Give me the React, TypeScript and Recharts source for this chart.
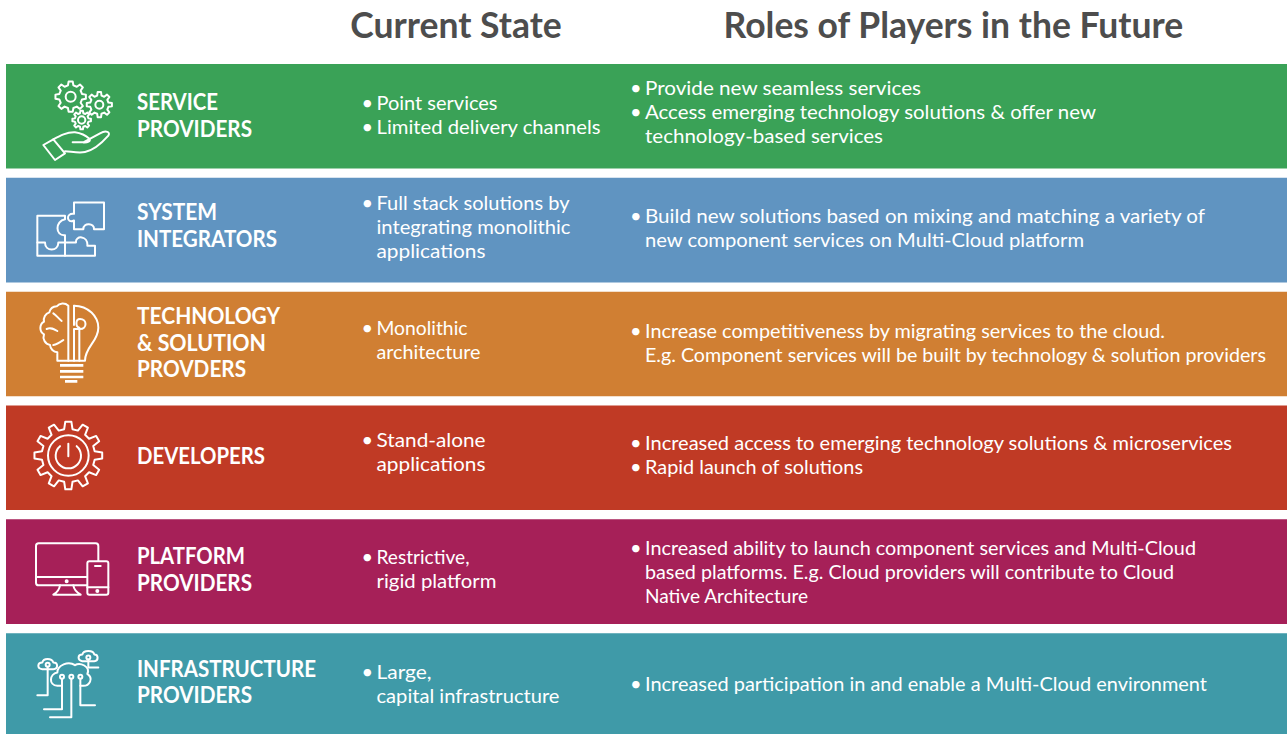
import { Bar, BarChart, Cell, LabelList, XAxis, YAxis } from 'recharts';

const players = [
  ['SERVICE', 'PROVIDERS'],
  ['SYSTEM', 'INTEGRATORS'],
  ['TECHNOLOGY', '& SOLUTION', 'PROVDERS'],
  ['DEVELOPERS'],
  ['PLATFORM', 'PROVIDERS'],
  ['INFRASTRUCTURE', 'PROVIDERS'],
];

const currentState = [
  ['• Point services', '• Limited delivery channels'],
  ['• Full stack solutions by', 'integrating monolithic', 'applications'],
  ['• Monolithic', 'architecture'],
  ['• Stand-alone', 'applications'],
  ['• Restrictive,', 'rigid platform'],
  ['• Large,', 'capital infrastructure'],
];

const futureRoles = [
  ['• Provide new seamless services', '• Access emerging technology solutions & offer new', 'technology-based services'],
  ['• Build new solutions based on mixing and matching a variety of', 'new component services on Multi-Cloud platform'],
  ['• Increase competitiveness by migrating services to the cloud.', 'E.g. Component services will be built by technology & solution providers'],
  ['• Increased access to emerging technology solutions & microservices', '• Rapid launch of solutions'],
  ['• Increased ability to launch component services and Multi-Cloud', 'based platforms. E.g. Cloud providers will contribute to Cloud', 'Native Architecture'],
  ['• Increased participation in and enable a Multi-Cloud environment'],
];

const headers = ['Current State', 'Roles of Players in the Future'];
const headerTicks = [35.13, 73.96];
const rowSpan = [100, 100, 100, 100, 100, 100];
const rowColors = ['#3aa257', '#6094c1', '#d07f33', '#c03a25', '#a62058', '#3f9aa8'];

const playerWidths = [[81, 115], [80, 140], [143, 129, 109], [128], [108, 115], [179, 115]];
const currentWidths = [[121, 224], [193, 194, 109], [91, 104], [109, 109], [93, 120], [55, 183]];
const futureWidths = [[276, 451, 238], [560, 439], [520, 621], [587, 218], [551, 529, 163], [562]];

// block centres relative to the bar centre, they are not quite centred in the original
const playerShift = [-0.5, -5, -1.5, -2, -2.5, -3.5];
const currentShift = [-1.5, -3, -4, -5.5, -2.5, -1.5];
const futureShift = [-4, -2, -1, -3, 0.5, -1.5];

const FONT = 'Lato, sans-serif';
const W = 6;

function gearPath(cx: number, cy: number, outer: number, inner: number, teeth: number) {
  let d = '';
  const step = (Math.PI * 2) / teeth;
  for (let i = 0; i < teeth; i++) {
    const a = i * step - Math.PI / 2;
    const p = [
      [inner, a - step * 0.3],
      [outer, a - step * 0.17],
      [outer, a + step * 0.17],
      [inner, a + step * 0.3],
    ];
    p.forEach(([r, t], k) => {
      const x = (cx + r * Math.cos(t)).toFixed(1);
      const y = (cy + r * Math.sin(t)).toFixed(1);
      d += i === 0 && k === 0 ? `M${x},${y}` : `L${x},${y}`;
    });
  }
  return d + 'Z';
}

// icons are drawn in 3x units, measured from the top of their bar
const icons = [
  <g key="gears">
    <path d={gearPath(212, 98, 46, 35, 8)} />
    <circle cx={212} cy={98} r={15} />
    <path d={gearPath(298, 122, 38, 28, 8)} />
    <circle cx={298} cy={122} r={12} />
    <path d={gearPath(245, 168, 28, 21, 8)} />
    <circle cx={245} cy={168} r={11} />
    <path d="M130,243 L160,226 L195,268 L165,288 Z" />
    <path d="M160,226 C180,215 200,204 225,205 C245,208 258,215 268,224 C274,232 262,236 250,235 L218,235 M250,235 L300,208 C318,198 332,204 325,215 C310,232 285,258 255,264 C235,268 210,262 195,262" />
  </g>,
  <g key="puzzle">
    <path d="M222,74 H312 V154 H282 C284,136 250,132 250,154 H222 V128 C200,140 196,104 222,108 Z" />
    <path d="M112,114 H195 V124 C165,130 165,175 195,172 V234 H112 Z" />
    <path d="M112,194 H135 C135,222 175,222 175,194 H195" />
    <path d="M195,234 H285 V204 H262 C265,172 225,172 228,194 H195" />
  </g>,
  <g key="bulb">
    <path d="M205,42 A24,24 0 0 0 170,44 A24,24 0 0 0 148,62 A24,24 0 0 0 132,90 A22,22 0 0 0 132,128 A24,24 0 0 0 150,160 A24,24 0 0 0 172,182 V207 H205 Z" />
    <path d="M160,65 C170,72 175,80 185,88 M140,112 C152,106 162,112 172,118 M160,160 C172,158 180,152 190,145" />
    <path d="M222,42 C265,42 295,75 295,108 C295,150 255,165 255,207 H205" />
    <path d="M222,42 V100 M222,207 V112 H240 C262,112 262,82 240,82 C226,82 226,105 238,108 V207" />
    <path d="M180,221 H250 M180,239 H250 M180,256 H250 M195,269 H232" strokeWidth={8} strokeLinecap="butt" />
  </g>,
  <g key="power">
    <path d={gearPath(205, 150, 102, 80, 12)} />
    <circle cx={205} cy={150} r={61} />
    <path d="M180,122 A38,38 0 1 0 230,122" />
    <path d="M205,115 V152" />
  </g>,
  <g key="devices">
    <path d="M260,198 H116 Q108,198 108,190 V80 Q108,72 116,72 H287 Q295,72 295,80 V124" />
    <path d="M108,173 H260" />
    <rect x={262} y={126} width={63} height={100} rx={6} />
    <path d="M285,140 H302 M262,204 H325" />
    <circle cx={200} cy={186} r={3} />
    <circle cx={292} cy={215} r={3} />
    <path d="M180,198 C178,212 170,220 160,226 H242 C232,220 222,212 220,198" />
  </g>,
  <g key="cloud">
    <path d="M172,158 C145,156 148,122 172,118 C172,96 205,82 225,96 C240,86 272,100 262,122 C282,136 268,158 250,158 H241 M186,158 H172" />
    <circle cx={186} cy={131} r={6} />
    <circle cx={214} cy={131} r={6} />
    <circle cx={241} cy={131} r={6} />
    <path d="M186,137 V228 H132 M214,137 V252 H150 M241,137 V216 H285" />
    <path d="M127,108 C110,106 112,88 127,88 C130,74 155,74 160,88 C175,88 175,108 160,108 H127" />
    <circle cx={143} cy={95} r={6} />
    <path d="M143,101 V186 H112" />
    <path d="M247,84 C232,82 232,64 247,64 C250,50 280,50 283,64 C296,64 296,84 283,84 H247" />
    <circle cx={265} cy={73} r={6} />
    <path d="M265,79 V103 H295" />
  </g>,
];

function TextBlock({ lines, widths, x, cy, size, pitch, weight }: {
  lines: string[];
  widths: number[];
  x: number;
  cy: number;
  size: number;
  pitch: number;
  weight: number;
}) {
  return (
    <>
      {lines.map((line, i) => {
        const bullet = line.startsWith('• ');
        const y = cy + (i - (lines.length - 1) / 2) * pitch + size * 0.35;
        const style = { fill: '#ffffff', fontFamily: FONT, fontSize: size, fontWeight: weight };
        return (
          <g key={i}>
            {bullet ? (
              <text x={x - 15} y={y} {...style}>
                •
              </text>
            ) : null}
            <text x={x} y={y} {...style} textLength={widths[i]} lengthAdjust="spacingAndGlyphs">
              {bullet ? line.slice(2) : line}
            </text>
          </g>
        );
      })}
    </>
  );
}

function RowContent(props: any) {
  const { index, viewBox } = props;
  const top = viewBox.y;
  const mid = top + viewBox.height / 2;
  return (
    <g>
      <g transform={`translate(0 ${top}) scale(${1 / 3})`} fill="none" stroke="#ffffff" strokeWidth={W} strokeLinejoin="round" strokeLinecap="round">
        {icons[index]}
      </g>
      <TextBlock lines={players[index]} widths={playerWidths[index]} x={137} cy={mid + playerShift[index]} size={23} pitch={26.8} weight={700} />
      <TextBlock lines={currentState[index]} widths={currentWidths[index]} x={376.5} cy={mid + currentShift[index]} size={20} pitch={24} weight={400} />
      <TextBlock lines={futureRoles[index]} widths={futureWidths[index]} x={645} cy={mid + futureShift[index]} size={20} pitch={24} weight={400} />
    </g>
  );
}

const rows = players.map((p, i) => ({ name: p.join(' '), span: rowSpan[i] }));

export default function App() {
  return (
    <div style={{ position: 'fixed', left: 0, top: 0, width: 1287, height: 734, overflow: 'hidden', background: '#ffffff' }}>
      <BarChart
        width={1287}
        height={742}
        data={rows}
        layout="vertical"
        margin={{ top: 0, right: 0, bottom: 0, left: 6 }}
        barSize={104.6}
      >
        <XAxis
          type="number"
          orientation="top"
          domain={[0, 100]}
          height={59}
          ticks={headerTicks}
          interval={0}
          tickFormatter={(_v, i) => headers[i]}
          axisLine={false}
          tickLine={false}
          tickMargin={15}
          tick={{ fill: '#4d4d4d', fontSize: 35.5, fontWeight: 700, fontFamily: FONT }}
        />
        <YAxis type="category" dataKey="name" hide />
        <Bar dataKey="span" isAnimationActive={false}>
          {rows.map((r, i) => (
            <Cell key={r.name} fill={rowColors[i]} />
          ))}
          <LabelList dataKey="span" content={RowContent} />
        </Bar>
      </BarChart>
    </div>
  );
}
